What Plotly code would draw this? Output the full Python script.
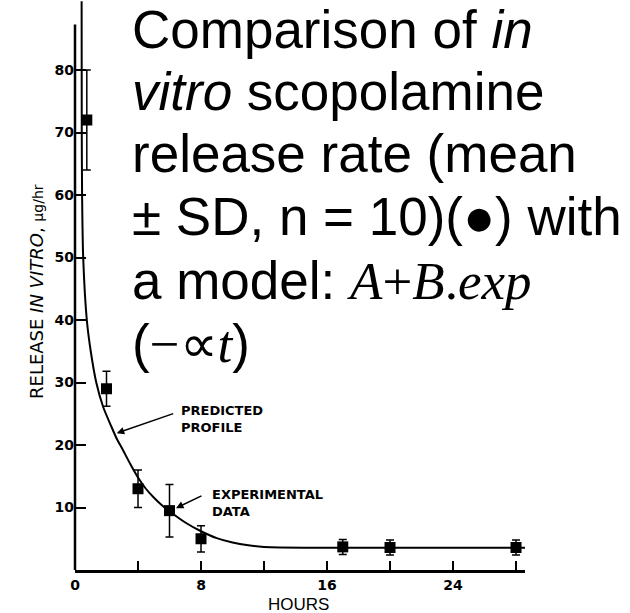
import plotly.graph_objects as go

# ---- data ----
hours = [0.75, 2, 4, 6, 8, 17, 20, 28]
release_mean = [72, 29, 13, 9.5, 5, 3.7, 3.6, 3.6]
release_sd = [8, 2.8, 3, 4.2, 2.1, 1.2, 1.2, 1.2]

curve_hours = [0.42, 0.43, 0.45, 0.52, 0.75, 1.0, 1.35, 1.8, 2.3, 2.65, 3.0, 3.5,
               4.0, 4.5, 5.0, 5.5, 6.0, 7.0, 8.0, 9.0, 10.0, 11.0, 12.0, 13.0,
               16.0, 20.0, 24.0, 28.6]
curve_release = [91.0, 70.0, 60.0, 50.0, 40.0, 35.0, 30.0, 26.0, 23.0, 21.0, 19.4, 17.0,
                 14.8, 13.0, 11.6, 10.4, 9.4, 7.6, 6.2, 5.1, 4.4, 3.95, 3.7, 3.6,
                 3.57, 3.57, 3.57, 3.57]

x_tickvals = [0, 4, 8, 12, 16, 20, 24, 28]
x_ticktext = ["0", "", "8", "", "16", "", "24", ""]
y_tickvals = [10, 20, 30, 40, 50, 60, 70, 80]
y_ticktext = ["10", "20", "30", "40", "50", "60", "70", "80"]

# ---- layout geometry (pixels) ----
W, H = 630, 613
L, R, T, B = 75, 105, 0, 43
PW, PH = W - L - R, H - T - B
XMAX, YMAX = 28.57, 91.2


def px(X):
    return (X - L) / PW


def py(Y):
    return (H - B - Y) / PH


def bold(labels):
    return [f"<b>{s}</b>" if s else "" for s in labels]


fig = go.Figure()

fig.add_trace(go.Scatter(
    x=curve_hours, y=curve_release, mode="lines",
    line=dict(color="black", width=2, shape="spline", smoothing=0.5),
    hoverinfo="skip"))

fig.add_trace(go.Scatter(
    x=hours, y=release_mean, mode="markers",
    marker=dict(symbol="square", size=11, color="black"),
    error_y=dict(type="data", array=release_sd, visible=True,
                 color="black", thickness=1.5, width=4)))

tickfont = dict(family="DejaVu Sans", size=14, color="black")
fig.update_xaxes(range=[0, XMAX], tickvals=x_tickvals, ticktext=bold(x_ticktext),
                 ticks="inside", ticklen=9, tickwidth=1.5, tickcolor="black",
                 showline=True, linewidth=3, linecolor="black",
                 showgrid=False, zeroline=False, tickfont=tickfont)
fig.update_yaxes(range=[0, YMAX], tickvals=y_tickvals, ticktext=bold(y_ticktext),
                 ticks="inside", ticklen=11, tickwidth=2, tickcolor="black",
                 showline=False, showgrid=False, zeroline=False, tickfont=tickfont)

shapes = [dict(type="line", xref="paper", yref="paper", x0=0, x1=0, y0=0, y1=87.3 / YMAX,
               line=dict(color="black", width=2.5))]

big = dict(family="Liberation Sans, Arial", size=53, color="black")
serif = "font-family:'Liberation Serif'"
lines = [
    "Comparison of <i>in</i>",
    "<i>vitro</i> scopolamine",
    "release rate (mean",
    "± SD, n = 10)(●) with",
    f"a model: <span style=\"{serif}\"><i>A</i>+<i>B</i>.<i>exp</i></span>",
    f"(<span style=\"{serif}\">−∝<i>t</i></span>)",
]
baselines = [47, 109, 172, 235, 298, 361]

annotations = []
for txt, bl in zip(lines, baselines):
    annotations.append(dict(text=txt, xref="paper", yref="paper", x=px(130), y=py(bl - 18),
                            xanchor="left", yanchor="middle", showarrow=False, font=big))

small = dict(family="DejaVu Sans", size=13, color="black", weight="bold")
annotations += [
    dict(text="<b>PREDICTED<br>PROFILE</b>", x=6.6, y=24.2, xref="x", yref="y",
         xanchor="left", yanchor="middle", align="left", showarrow=False, font=small),
    dict(text="<b>EXPERIMENTAL<br>DATA</b>", x=8.57, y=10.7, xref="x", yref="y",
         xanchor="left", yanchor="middle", align="left", showarrow=False, font=small),
    dict(text="", x=2.65, y=21.9, xref="x", yref="y", showarrow=True,
         ax=58, ay=-20, arrowhead=2, arrowsize=1, arrowwidth=1.5, arrowcolor="black", standoff=0),
    dict(text="", x=6.41, y=9.9, xref="x", yref="y", showarrow=True,
         ax=27, ay=-13, arrowhead=2, arrowsize=1, arrowwidth=1.5, arrowcolor="black", standoff=0),
    dict(text="HOURS", xref="paper", yref="paper", x=px(298), y=py(604),
         xanchor="center", yanchor="middle", showarrow=False,
         font=dict(family="Liberation Sans, Arial", size=17, color="black")),
    dict(text="RELEASE <i>IN VITRO</i>, <span style=\"font-size:14px\">µg/hr</span>",
         xref="paper", yref="paper", x=px(36), y=py(292), textangle=-90,
         xanchor="center", yanchor="middle", showarrow=False,
         font=dict(family="DejaVu Sans", size=18, color="black")),
]

fig.update_layout(width=W, height=H, margin=dict(l=L, r=R, t=T, b=B),
                  paper_bgcolor="white", plot_bgcolor="white", showlegend=False,
                  shapes=shapes, annotations=annotations)

fig.write_html("out.html")
